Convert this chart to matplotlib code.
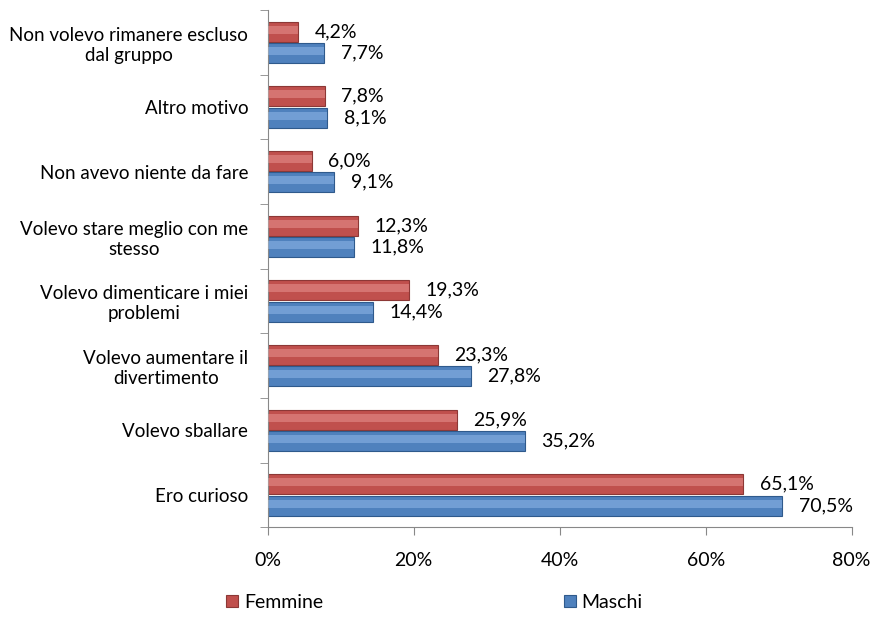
import matplotlib.pyplot as plt
import numpy as np

categories = ['Ero curioso', 'Volevo sballare', 'Volevo aumentare il\ndivertimento',
              'Volevo dimenticare i miei\nproblemi', 'Volevo stare meglio con me\nstesso',
              'Non avevo niente da fare', 'Altro motivo',
              'Non volevo rimanere escluso\ndal gruppo']
femmine = [65.1, 25.9, 23.3, 19.3, 12.3, 6.0, 7.8, 4.2]
maschi = [70.5, 35.2, 27.8, 14.4, 11.8, 9.1, 8.1, 7.7]

plt.rcParams['font.family'] = ['Lato', 'DejaVu Sans']

fig = plt.figure(figsize=(8.78, 6.21), dpi=100)
ax = fig.add_axes([0.305, 0.151, 0.665, 0.833])

y = np.arange(len(categories))
h = 0.31
off = 0.165


def fancy_bars(ys, vals, base, light, dark, label):
    bars = ax.barh(ys, vals, height=h, color=base, edgecolor=dark, linewidth=0.8, label=label, zorder=2)
    # lighter stripe to imitate the shaded look
    ax.barh(ys + h * 0.1, vals, height=h * 0.4, color=light, linewidth=0, alpha=0.45, zorder=3)
    return bars


fancy_bars(y + off, femmine, '#C0504D', '#F0A09D', '#8C3836', 'Femmine')
fancy_bars(y - off, maschi, '#4F81BD', '#9DC3F2', '#2F5A8C', 'Maschi')

for yi, v in zip(y, femmine):
    ax.annotate(f'{v:.1f}%'.replace('.', ','), (v, yi + off), xytext=(12, 0),
                textcoords='offset points', va='center', fontsize=14)
for yi, v in zip(y, maschi):
    ax.annotate(f'{v:.1f}%'.replace('.', ','), (v, yi - off), xytext=(12, 0),
                textcoords='offset points', va='center', fontsize=14)

ax.set_xlim(0, 80)
ax.set_ylim(-0.5, len(categories) - 0.5)
ax.set_xticks([0, 20, 40, 60, 80])
ax.set_xticklabels(['0%', '20%', '40%', '60%', '80%'], fontsize=14)
ax.set_yticks(y)
ax.set_yticklabels(categories, fontsize=13.5, multialignment='center')
ax.set_yticks(np.arange(-0.5, len(categories)), minor=True)
ax.tick_params(axis='y', which='major', length=0, pad=14)
ax.tick_params(axis='y', which='minor', length=6, color='#888888', direction='out')
ax.tick_params(axis='x', length=6, color='#888888', direction='out', pad=12)

for s in ['top', 'right']:
    ax.spines[s].set_visible(False)
for s in ['left', 'bottom']:
    ax.spines[s].set_color('#888888')

handles, labels = ax.get_legend_handles_labels()
fig.legend(handles, labels, loc='lower left', bbox_to_anchor=(0.238, -0.012), ncol=2,
           frameon=False, fontsize=14, columnspacing=12.4, handlelength=0.6,
           handleheight=0.6, handletextpad=0.3)

fig.savefig('out.png', dpi=100)
